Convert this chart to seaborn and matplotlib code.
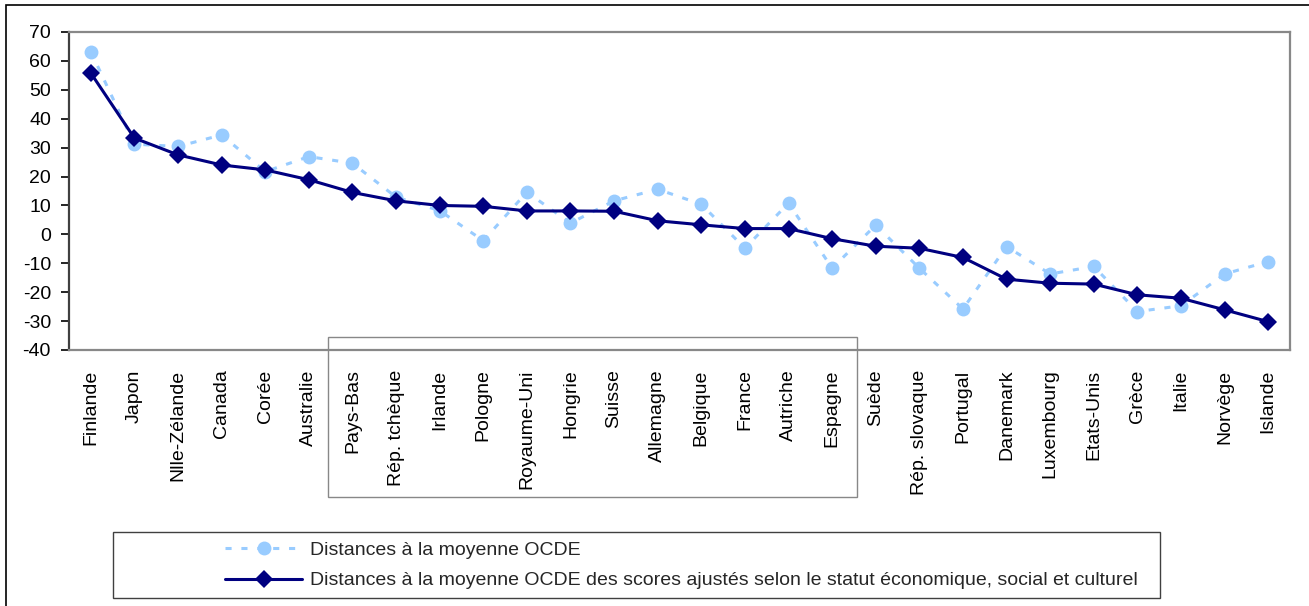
import numpy as np
import pandas as pd
import matplotlib
matplotlib.use("Agg")
import matplotlib.pyplot as plt
import matplotlib.transforms as mtransforms
from matplotlib.patches import Rectangle
import seaborn as sns

countries = ["Finlande", "Japon", "Nlle-Zélande", "Canada", "Corée", "Australie",
             "Pays-Bas", "Rép. tchèque", "Irlande", "Pologne", "Royaume-Uni",
             "Hongrie", "Suisse", "Allemagne", "Belgique", "France", "Autriche",
             "Espagne", "Suède", "Rép. slovaque", "Portugal", "Danemark",
             "Luxembourg", "Etats-Unis", "Grèce", "Italie", "Norvège", "Islande"]

distances = [63.2, 31.2, 30.4, 34.4, 21.7, 26.9, 24.6, 12.9, 8.2, -2.2, 14.6,
             3.9, 11.6, 15.6, 10.4, -4.8, 10.8, -11.7, 3.2, -11.7, -25.8, -4.2,
             -13.7, -11.1, -26.7, -24.7, -13.7, -9.4]

adjusted = [55.8, 33.3, 27.5, 24.0, 22.3, 18.9, 14.5, 11.6, 10.0, 9.7, 8.1,
            8.1, 8.0, 4.7, 3.3, 2.0, 2.0, -1.5, -4.1, -4.8, -8.0, -15.5,
            -16.9, -17.2, -20.9, -22.1, -26.1, -30.2]

label_raw = "Distances à la moyenne OCDE"
label_adj = ("Distances à la moyenne OCDE des scores ajustés selon le statut "
             "économique, social et culturel")

yticks = list(range(-40, 71, 10))

sns.set_theme(style="white")
plt.rcParams["font.family"] = ["Liberation Sans", "DejaVu Sans"]
FS = 14

W, H = 1309, 606
fig = plt.figure(figsize=(W / 100, H / 100), dpi=100)
ax = fig.add_axes([69 / W, 1 - 350 / H, (1290 - 69) / W, (350 - 32) / H])

df = pd.DataFrame({"pos": np.arange(len(countries)),
                   "country": countries,
                   "raw": distances,
                   "adj": adjusted})

light = "#99CCFF"
navy = "#000080"

sns.lineplot(data=df, x="pos", y="raw", ax=ax, color=light, lw=2.2,
             linestyle=(0, (2.0, 3.2)), marker="o", markersize=10,
             markeredgewidth=0, markerfacecolor=light, label=label_raw,
             zorder=3)
sns.lineplot(data=df, x="pos", y="adj", ax=ax, color=navy, lw=2.2,
             marker="D", markersize=9, markeredgewidth=0,
             markerfacecolor=navy, label=label_adj, zorder=4)

ax.set_xlim(-0.5, len(countries) - 0.5)
ax.set_ylim(-40, 70)
ax.set_yticks(yticks)
ax.set_yticklabels([str(v) for v in yticks])
ax.set_xticks(df["pos"])
ax.set_xticklabels(countries, rotation=90)
ax.set_xlabel("")
ax.set_ylabel("")
ax.tick_params(axis="x", length=0, pad=14, labelsize=FS, colors="black")
ax.tick_params(axis="y", length=6, width=1.2, pad=7, labelsize=FS,
               direction="out", left=True, colors="black")
for s in ["top", "right", "bottom"]:
    ax.spines[s].set_color("#888888")
    ax.spines[s].set_linewidth(1.6)
ax.spines["left"].set_color("#404040")
ax.spines["left"].set_linewidth(1.6)
ax.grid(False)

leg = ax.get_legend()
handles, labels = ax.get_legend_handles_labels()
if leg is not None:
    leg.remove()

# Highlight box around Pays-Bas ... Espagne labels
trans = mtransforms.blended_transform_factory(ax.transData, ax.transAxes)
ax.add_patch(Rectangle((5.44, -0.462), 17.57 - 5.44, 0.462 + 0.041,
                       transform=trans, fill=False, edgecolor="#888888",
                       lw=1.0, clip_on=False, zorder=1))

# Legend box
fig.patches.append(Rectangle((113 / W, 1 - 598 / H), (1160 - 113) / W,
                             (598 - 532) / H, transform=fig.transFigure,
                             fill=False, edgecolor="#404040", lw=1.0))
px = FS / 0.72
fig.legend(handles, labels, loc="center left",
           bbox_to_anchor=(225 / W, 1 - 565.5 / H), frameon=False,
           fontsize=FS, handlelength=77 / px, handletextpad=8 / px,
           labelspacing=0.65, borderpad=0, borderaxespad=0)

# Outer frame
fig.patches.append(Rectangle((6 / W, -0.05), 1.05, 1 - 5 / H + 0.05,
                             transform=fig.transFigure, fill=False,
                             edgecolor="black", lw=1.2))

fig.savefig("out.png", dpi=100, facecolor="white")
